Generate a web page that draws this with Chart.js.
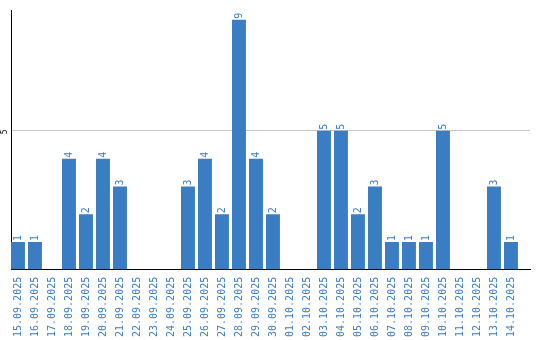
<!DOCTYPE html>
<html>
<head>
<meta charset="utf-8">
<script src="https://cdn.jsdelivr.net/npm/chart.js@4"></script>
<style>
  html, body { margin: 0; padding: 0; background: #fff; }
  #wrap { width: 540px; height: 340px; }
</style>
</head>
<body>
<div id="wrap"><canvas id="chart"></canvas></div>
<script>
// Dates on the x axis
const dates = [
    '15.09.2025', '16.09.2025', '17.09.2025', '18.09.2025', '19.09.2025',
    '20.09.2025', '21.09.2025', '22.09.2025', '23.09.2025', '24.09.2025',
    '25.09.2025', '26.09.2025', '27.09.2025', '28.09.2025', '29.09.2025',
    '30.09.2025', '01.10.2025', '02.10.2025', '03.10.2025', '04.10.2025',
    '05.10.2025', '06.10.2025', '07.10.2025', '08.10.2025', '09.10.2025',
    '10.10.2025', '11.10.2025', '12.10.2025', '13.10.2025', '14.10.2025'
];
// Count per day
const counts = [1, 1, 0, 4, 2, 4, 3, 0, 0, 0, 3, 4, 2, 9, 4, 2, 0, 0, 5, 5, 2, 3, 1, 1, 1, 5, 0, 0, 3, 1];
// Only gridline / tick shown on the y axis
const yTicks = [5];

const blue = '#3a7dc3';
const monoFont = { family: '"DejaVu Sans Mono", monospace', size: 10 };

// Draws the rotated value labels above the bars and the y tick label
const labelsPlugin = {
    id: 'labels',
    afterDatasetsDraw(chart) {
        const ctx = chart.ctx;
        const meta = chart.getDatasetMeta(0);
        ctx.save();
        ctx.font = '10px "DejaVu Sans Mono", monospace';
        ctx.fillStyle = blue;
        ctx.textAlign = 'left';
        ctx.textBaseline = 'middle';
        meta.data.forEach((bar, i) => {
            if (!counts[i]) return;
            ctx.save();
            ctx.translate(bar.x, bar.y - 1);
            ctx.rotate(-Math.PI / 2);
            ctx.fillText(String(counts[i]), 0, 0);
            ctx.restore();
        });
        const y = chart.scales.y;
        ctx.font = '8px "DejaVu Sans Mono", monospace';
        ctx.fillStyle = '#000';
        ctx.textAlign = 'center';
        yTicks.forEach(t => {
            ctx.save();
            ctx.translate(4.5, y.getPixelForValue(t) + 1);
            ctx.rotate(-Math.PI / 2);
            ctx.fillText(String(t), 0, 0);
            ctx.restore();
        });
        ctx.restore();
    }
};

document.addEventListener('DOMContentLoaded', function() {
    const ctx = document.getElementById('chart').getContext('2d');
    new Chart(ctx, {
        type: 'bar',
        data: {
            datasets: [{
                data: counts.map((v, i) => ({ x: i, y: v })),
                backgroundColor: blue,
                barPercentage: 0.82,
                categoryPercentage: 1
            }]
        },
        options: {
            responsive: true,
            maintainAspectRatio: false,
            animation: false,
            layout: { padding: { left: 11, right: 10, top: 10, bottom: -4 } },
            plugins: {
                legend: { display: false },
                tooltip: { enabled: false }
            },
            scales: {
                x: {
                    type: 'linear',
                    offset: false,
                    min: -0.41,
                    max: 30.12,
                    grid: { display: false, drawTicks: false },
                    border: { display: true, color: '#000', width: 1 },
                    // labels fit inside the plot width, so no extra side padding
                    afterFit: scale => { scale.paddingLeft = 0; scale.paddingRight = 0; },
                    ticks: {
                        stepSize: 1,
                        includeBounds: false,
                        autoSkip: false,
                        minRotation: 90,
                        maxRotation: 90,
                        padding: 7,
                        color: blue,
                        font: monoFont,
                        callback: v => Number.isInteger(v) && dates[v] ? dates[v] : ''
                    }
                },
                y: {
                    min: 0,
                    max: 9.35,
                    grid: {
                        drawTicks: false,
                        color: c => yTicks.includes(c.tick.value) ? '#c8c8c8' : 'rgba(0,0,0,0)'
                    },
                    border: { display: true, color: '#000', width: 1 },
                    ticks: { display: false, stepSize: 5 }
                }
            }
        },
        plugins: [labelsPlugin]
    });
});
</script>
</body>
</html>
